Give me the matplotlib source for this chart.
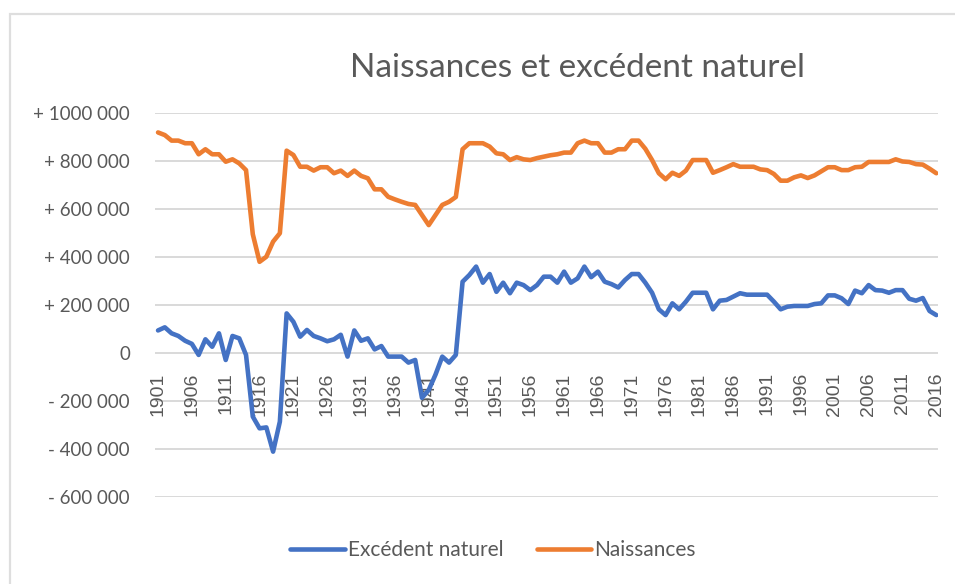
import matplotlib
matplotlib.use("Agg")
import matplotlib.pyplot as plt
from matplotlib.patches import Rectangle

years = list(range(1901, 2017))

naissances = [
    919, 908, 885, 885, 874, 874, 828, 849, 828, 828,   # 1901-1910
    797, 807, 790, 762, 495, 380, 401, 464, 499, 843,   # 1911-1920
    825, 776, 776, 760, 774, 774, 749, 760, 738, 760,   # 1921-1930
    738, 728, 682, 682, 651, 640, 630, 621, 617, 575,   # 1931-1940
    533, 575, 617, 630, 650, 849, 874, 874, 874, 860,   # 1941-1950
    832, 828, 804, 816, 807, 804, 812, 818, 824, 828,   # 1951-1960
    835, 835, 874, 885, 874, 874, 835, 835, 849, 849,   # 1961-1970
    885, 885, 851, 804, 749, 724, 751, 738, 760, 804,   # 1971-1980
    804, 804, 751, 762, 774, 787, 776, 776, 776, 765,   # 1981-1990
    762, 746, 718, 718, 732, 740, 729, 740, 757, 774,   # 1991-2000
    774, 762, 762, 774, 776, 796, 796, 796, 796, 807,   # 2001-2010
    798, 796, 787, 785, 768, 749,                       # 2011-2016
]
naissances = [v * 1000 for v in naissances]

excedent = [
    94, 107, 82, 71, 51, 38, -8, 57, 26, 82,            # 1901-1910
    -29, 71, 61, -8, -265, -314, -310, -411, -286, 165, # 1911-1920
    130, 68, 96, 71, 61, 49, 57, 76, -15, 94,           # 1921-1930
    51, 61, 15, 29, -15, -15, -15, -40, -29, -187,      # 1931-1940
    -154, -90, -15, -40, -8, 297, 325, 360, 293, 329,   # 1941-1950
    255, 293, 249, 293, 283, 262, 283, 318, 318, 293,   # 1951-1960
    339, 293, 311, 360, 316, 339, 297, 287, 273, 304,   # 1961-1970
    329, 329, 293, 251, 182, 158, 207, 182, 214, 251,   # 1971-1980
    251, 251, 182, 218, 221, 235, 249, 243, 243, 243,   # 1981-1990
    243, 214, 182, 193, 196, 196, 196, 204, 207, 240,   # 1991-2000
    240, 228, 204, 260, 249, 283, 262, 260, 251, 262,   # 2001-2010
    262, 226, 218, 229, 175, 158,                       # 2011-2016
]
excedent = [v * 1000 for v in excedent]

tick_years = list(range(1901, 2017, 5))
y_ticks = [-600000, -400000, -200000, 0, 200000, 400000, 600000, 800000, 1000000]
y_labels = ["- 600 000", "- 400 000", "- 200 000", "0", "+ 200 000",
            "+ 400 000", "+ 600 000", "+ 800 000", "+ 1000 000"]

title = "Naissances et excédent naturel"
series_names = ["Excédent naturel", "Naissances"]
colors = ["#4472C4", "#ED7D31"]
txt = "#595959"

W, H = 955, 584
fig = plt.figure(figsize=(W / 100, H / 100), dpi=100)
fig.patch.set_facecolor("white")

# outer chart border
fig.patches.append(Rectangle((10 / W, -0.01), 1.1, (H - 14) / H + 0.01,
                             transform=fig.transFigure, fill=False,
                             edgecolor="#dedede", linewidth=1.6))

ax = fig.add_axes([155 / W, 87 / H, (938 - 155) / W, (497 - 113) / H])
ax.set_facecolor("white")

ax.plot(years, excedent, color=colors[0], lw=3.3, solid_joinstyle="round",
        solid_capstyle="round", label=series_names[0], zorder=3)
ax.plot(years, naissances, color=colors[1], lw=3.3, solid_joinstyle="round",
        solid_capstyle="round", label=series_names[1], zorder=3)

ax.set_xlim(1900.55, 2016.25)
ax.set_ylim(-600000, 1000000)
ax.set_yticks(y_ticks)
ax.set_yticklabels(y_labels, fontsize=13.5, color=txt, family="Lato")
ax.tick_params(axis="y", length=0, pad=18)
ax.set_xticks(tick_years)
ax.set_xticklabels([])
ax.tick_params(axis="x", length=0)
ax.grid(axis="y", color="#d9d9d9", lw=1.4, zorder=0)
for s in ax.spines.values():
    s.set_visible(False)

# category labels placed next to the zero axis (Excel style)
for yr in tick_years:
    ax.text(yr, -80000, str(yr), rotation=90, ha="center", va="top",
            fontsize=14, color=txt, family="Liberation Sans", zorder=2)

fig.text(577 / W, 1 - 68 / H, title, ha="center", va="center",
         fontsize=24, color=txt, family="Lato")

leg = fig.legend(loc="center", bbox_to_anchor=(493 / W, 34 / H), ncol=2,
                 frameon=False, handlelength=2.6, handletextpad=0.15,
                 columnspacing=1.6, prop={"family": "Lato", "size": 15})
for line in leg.get_lines():
    line.set_linewidth(3.3)
for t in leg.get_texts():
    t.set_color(txt)

fig.savefig("out.png", dpi=100, facecolor="white")
